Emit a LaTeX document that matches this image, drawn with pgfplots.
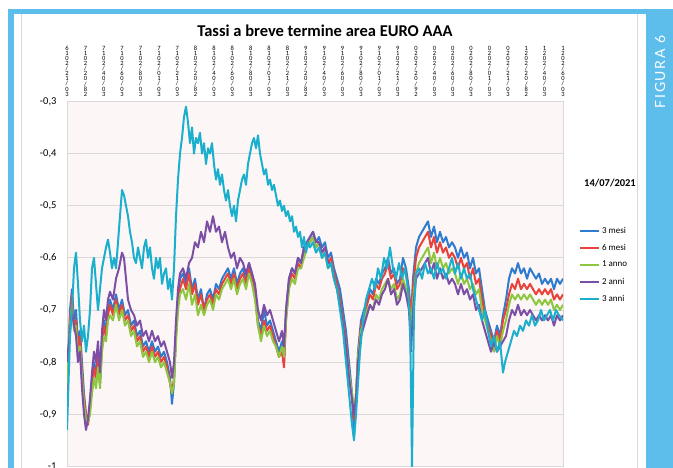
\documentclass[border=0pt]{standalone}
\usepackage{pgfplots}
\pgfplotsset{compat=1.18}
\usepackage{fontspec}
\setmainfont{Carlito}
\newfontfamily\figfont[LetterSpace=12]{Lato}
\definecolor{frameblue}{HTML}{5DBDEB}
\definecolor{cmesi}{HTML}{2E7BCF}
\definecolor{csei}{HTML}{E8423B}
\definecolor{canno}{HTML}{8DC63F}
\definecolor{cdue}{HTML}{7B4FA6}
\definecolor{ctre}{HTML}{1AAFCC}
\definecolor{plotbg}{HTML}{FDF6F6}
\definecolor{gridc}{HTML}{D9D9D9}
\newcommand{\dl}[6]{#6\\#5\\0\\2\\/\\#4\\#3\\/\\#2\\#1}
\begin{document}
\begin{tikzpicture}[x=1pt,y=1pt]
\useasboundingbox (0,0) rectangle (673,468);
\fill[white] (0,0) rectangle (673,468);
\fill[frameblue] (8,0) rectangle (14,459);
\fill[frameblue] (8,454) rectangle (673,459);
\fill[frameblue] (646,0) rectangle (673,459);
\draw[gridc, line width=0.8pt] (21,0) -- (21,454);
\draw[gridc, line width=0.8pt] (637,0) -- (637,454);
\node[white, rotate=90, font=\figfont\fontsize{14}{15}\selectfont] at (660,396) {FIGURA 6};
\node[font=\bfseries\fontsize{16.5}{18}\selectfont] at (325,437) {Tassi a breve termine area EURO AAA};
\node[font=\bfseries\fontsize{10.5}{12}\selectfont] at (610,285) {14/07/2021};
\begin{axis}[
  at={(67,3)}, anchor=south west,
  scale only axis, width=496pt, height=365pt,
  xmin=67, xmax=563, ymin=-1, ymax=-0.3,
  axis background/.style={fill=plotbg},
  axis line style={gridc, line width=0.8pt},
  ymajorgrids, grid style={gridc, line width=0.8pt},
  /pgf/number format/assume math mode=true,
  ytick={-1,-0.9,-0.8,-0.7,-0.6,-0.5,-0.4,-0.3},
  yticklabel style={/pgf/number format/use comma, /pgf/number format/fixed, /pgf/number format/precision=1, font=\fontsize{10.5}{12}\selectfont, xshift=-7pt},
  xtick={67.0,85.4,103.7,122.1,140.5,158.9,177.2,195.6,214.0,232.3,250.7,269.1,287.4,305.8,324.2,342.6,360.9,379.3,397.7,416.0,434.4,452.8,471.1,489.5,507.9,526.3,544.6,563.0},
  xticklabels={{\dl3012{1}6},{\dl2802{1}7},{\dl3004{1}7},{\dl3006{1}7},{\dl3008{1}7},{\dl3010{1}7},{\dl3012{1}7},
    {\dl2802{1}8},{\dl3004{1}8},{\dl3006{1}8},{\dl3008{1}8},{\dl3010{1}8},{\dl3012{1}8},
    {\dl2802{1}9},{\dl3004{1}9},{\dl3006{1}9},{\dl3008{1}9},{\dl3010{1}9},{\dl3012{1}9},
    {\dl2902{2}0},{\dl3004{2}0},{\dl3006{2}0},{\dl3008{2}0},{\dl3010{2}0},{\dl3012{2}0},
    {\dl2802{2}1},{\dl3004{2}1},{\dl3006{2}1}},
  xticklabel pos=right,
  xticklabel style={align=center, anchor=south, font=\fontsize{6.5}{5.1}\selectfont, inner sep=0pt, yshift=5pt},
  major tick length=0pt,
  no markers,
  every axis plot/.append style={line width=2pt, line join=round},
  legend style={at={(1.032,0.668)}, anchor=north west, draw=none, fill=none,
    font=\fontsize{9}{10}\selectfont, row sep=5.5pt, inner xsep=0pt},
  legend cell align=left,
  legend image code/.code={\draw[#1, line width=2pt] (0pt,0pt) -- (19pt,0pt);},
  clip=true
]
\addplot[cmesi] coordinates {
(67,-0.86) (70,-0.70) (72,-0.66) (74,-0.72) (76,-0.70) (78,-0.76) (80,-0.74) (82,-0.80) (84,-0.86) (86,-0.90)
(88,-0.91) (90,-0.88) (92,-0.84) (94,-0.80) (96,-0.82) (98,-0.78) (100,-0.84) (102,-0.76) (104,-0.72) (106,-0.74)
(108,-0.70) (110,-0.68) (113,-0.70) (116,-0.67) (119,-0.70) (122,-0.68) (125,-0.71) (128,-0.70) (131,-0.73) (134,-0.72)
(137,-0.75) (140,-0.74) (143,-0.77) (146,-0.76) (149,-0.78) (152,-0.76) (155,-0.78) (158,-0.77) (161,-0.79) (164,-0.78)
(167,-0.80) (170,-0.83) (172,-0.88) (174,-0.84) (176,-0.74) (178,-0.68) (180,-0.64) (183,-0.63) (186,-0.65) (189,-0.62)
(192,-0.66) (195,-0.64) (198,-0.68) (201,-0.66) (204,-0.70) (207,-0.67) (210,-0.66) (213,-0.68) (216,-0.65) (219,-0.66)
(222,-0.64) (225,-0.63) (228,-0.62) (231,-0.64) (234,-0.62) (237,-0.65) (240,-0.63) (243,-0.62) (246,-0.64) (249,-0.61)
(252,-0.63) (255,-0.66) (258,-0.72) (261,-0.74) (264,-0.70) (267,-0.73) (270,-0.72) (273,-0.74) (276,-0.76) (279,-0.78)
(282,-0.76) (284,-0.80) (286,-0.70) (289,-0.64) (292,-0.62) (295,-0.63) (298,-0.60) (301,-0.61) (304,-0.58) (307,-0.57)
(310,-0.56) (313,-0.55) (316,-0.57) (319,-0.56) (322,-0.58) (325,-0.57) (328,-0.60) (331,-0.59) (334,-0.62) (337,-0.64)
(340,-0.66) (343,-0.70) (346,-0.74) (349,-0.80) (352,-0.86) (354,-0.94) (356,-0.88) (358,-0.78) (361,-0.72) (364,-0.70)
(367,-0.68) (370,-0.66) (373,-0.67) (376,-0.64) (379,-0.65) (382,-0.63) (385,-0.62) (388,-0.60) (391,-0.63) (394,-0.62)
(397,-0.65) (400,-0.64) (403,-0.60) (406,-0.62) (409,-0.66) (411,-0.72) (413,-0.64) (416,-0.58) (419,-0.56) (422,-0.55)
(425,-0.54) (428,-0.53) (431,-0.56) (434,-0.54) (437,-0.57) (440,-0.55) (443,-0.57) (446,-0.56) (449,-0.58) (452,-0.57)
(455,-0.58) (458,-0.60) (461,-0.58) (464,-0.60) (467,-0.59) (470,-0.62) (473,-0.60) (476,-0.63) (479,-0.62) (482,-0.66)
(485,-0.70) (488,-0.72) (491,-0.74) (494,-0.76) (497,-0.73) (500,-0.75) (503,-0.71) (506,-0.68) (509,-0.64) (512,-0.62)
(515,-0.63) (518,-0.61) (521,-0.63) (524,-0.62) (527,-0.64) (530,-0.62) (533,-0.63) (536,-0.64) (539,-0.63) (542,-0.65)
(545,-0.64) (548,-0.65) (551,-0.64) (554,-0.66) (557,-0.64) (560,-0.65) (563,-0.64)
};
\addlegendentry{3 mesi}
\addplot[csei] coordinates {
(67,-0.88) (70,-0.72) (72,-0.67) (74,-0.73) (76,-0.72) (78,-0.77) (80,-0.75) (82,-0.82) (84,-0.87) (86,-0.90)
(88,-0.92) (90,-0.89) (92,-0.85) (94,-0.81) (96,-0.83) (98,-0.79) (100,-0.84) (102,-0.77) (104,-0.73) (106,-0.75)
(108,-0.71) (110,-0.69) (113,-0.71) (116,-0.68) (119,-0.71) (122,-0.69) (125,-0.72) (128,-0.71) (131,-0.74) (134,-0.73)
(137,-0.76) (140,-0.75) (143,-0.78) (146,-0.77) (149,-0.79) (152,-0.77) (155,-0.79) (158,-0.78) (161,-0.80) (164,-0.79)
(167,-0.81) (170,-0.84) (172,-0.86) (174,-0.83) (176,-0.75) (178,-0.69) (180,-0.66) (183,-0.64) (186,-0.66) (189,-0.63)
(192,-0.67) (195,-0.65) (198,-0.69) (201,-0.67) (204,-0.70) (207,-0.68) (210,-0.67) (213,-0.69) (216,-0.66) (219,-0.67)
(222,-0.65) (225,-0.64) (228,-0.63) (231,-0.65) (234,-0.63) (237,-0.66) (240,-0.64) (243,-0.63) (246,-0.65) (249,-0.62)
(252,-0.64) (255,-0.67) (258,-0.73) (261,-0.75) (264,-0.72) (267,-0.74) (270,-0.73) (273,-0.75) (276,-0.77) (279,-0.79)
(282,-0.78) (284,-0.81) (286,-0.72) (289,-0.65) (292,-0.63) (295,-0.64) (298,-0.61) (301,-0.62) (304,-0.59) (307,-0.58)
(310,-0.57) (313,-0.56) (316,-0.58) (319,-0.57) (322,-0.59) (325,-0.58) (328,-0.61) (331,-0.60) (334,-0.63) (337,-0.65)
(340,-0.68) (343,-0.72) (346,-0.76) (349,-0.82) (352,-0.87) (354,-0.91) (356,-0.87) (358,-0.79) (361,-0.73) (364,-0.71)
(367,-0.69) (370,-0.67) (373,-0.68) (376,-0.65) (379,-0.66) (382,-0.64) (385,-0.63) (388,-0.61) (391,-0.64) (394,-0.63)
(397,-0.66) (400,-0.65) (403,-0.62) (406,-0.63) (409,-0.67) (411,-0.71) (413,-0.66) (416,-0.60) (419,-0.58) (422,-0.57)
(425,-0.56) (428,-0.55) (431,-0.58) (434,-0.56) (437,-0.59) (440,-0.57) (443,-0.59) (446,-0.58) (449,-0.60) (452,-0.59)
(455,-0.60) (458,-0.62) (461,-0.60) (464,-0.62) (467,-0.61) (470,-0.64) (473,-0.62) (476,-0.65) (479,-0.64) (482,-0.68)
(485,-0.71) (488,-0.73) (491,-0.75) (494,-0.77) (497,-0.74) (500,-0.76) (503,-0.72) (506,-0.70) (509,-0.67) (512,-0.65)
(515,-0.66) (518,-0.64) (521,-0.66) (524,-0.65) (527,-0.66) (530,-0.65) (533,-0.66) (536,-0.67) (539,-0.66) (542,-0.67)
(545,-0.66) (548,-0.67) (551,-0.66) (554,-0.68) (557,-0.67) (560,-0.68) (563,-0.67)
};
\addlegendentry{6 mesi}
\addplot[canno] coordinates {
(67,-0.84) (70,-0.73) (72,-0.69) (74,-0.74) (76,-0.73) (78,-0.79) (80,-0.77) (82,-0.83) (84,-0.88) (86,-0.91)
(88,-0.915) (90,-0.90) (92,-0.86) (94,-0.83) (96,-0.85) (98,-0.81) (100,-0.85) (102,-0.78) (104,-0.75) (106,-0.76)
(108,-0.72) (110,-0.71) (113,-0.72) (116,-0.69) (119,-0.72) (122,-0.70) (125,-0.73) (128,-0.72) (131,-0.75) (134,-0.74)
(137,-0.77) (140,-0.76) (143,-0.79) (146,-0.78) (149,-0.80) (152,-0.78) (155,-0.80) (158,-0.79) (161,-0.81) (164,-0.80)
(167,-0.82) (170,-0.84) (172,-0.86) (174,-0.84) (176,-0.76) (178,-0.70) (180,-0.67) (183,-0.66) (186,-0.68) (189,-0.65)
(192,-0.69) (195,-0.67) (198,-0.71) (201,-0.69) (204,-0.71) (207,-0.69) (210,-0.68) (213,-0.70) (216,-0.67) (219,-0.68)
(222,-0.66) (225,-0.65) (228,-0.64) (231,-0.66) (234,-0.64) (237,-0.67) (240,-0.65) (243,-0.64) (246,-0.66) (249,-0.63)
(252,-0.65) (255,-0.68) (258,-0.73) (261,-0.76) (264,-0.73) (267,-0.75) (270,-0.74) (273,-0.76) (276,-0.77) (279,-0.79)
(282,-0.77) (284,-0.79) (286,-0.72) (289,-0.66) (292,-0.64) (295,-0.65) (298,-0.62) (301,-0.62) (304,-0.60) (307,-0.58)
(310,-0.57) (313,-0.56) (316,-0.58) (319,-0.57) (322,-0.60) (325,-0.59) (328,-0.62) (331,-0.61) (334,-0.64) (337,-0.66)
(340,-0.69) (343,-0.73) (346,-0.77) (349,-0.82) (352,-0.86) (354,-0.89) (356,-0.86) (358,-0.79) (361,-0.74) (364,-0.72)
(367,-0.70) (370,-0.69) (373,-0.70) (376,-0.67) (379,-0.68) (382,-0.66) (385,-0.65) (388,-0.64) (391,-0.66) (394,-0.65)
(397,-0.68) (400,-0.67) (403,-0.64) (406,-0.66) (409,-0.69) (411,-0.73) (413,-0.68) (416,-0.63) (419,-0.61) (422,-0.60)
(425,-0.59) (428,-0.58) (431,-0.61) (434,-0.59) (437,-0.62) (440,-0.60) (443,-0.62) (446,-0.61) (449,-0.63) (452,-0.62)
(455,-0.63) (458,-0.65) (461,-0.63) (464,-0.65) (467,-0.64) (470,-0.66) (473,-0.65) (476,-0.67) (479,-0.66) (482,-0.70)
(485,-0.72) (488,-0.74) (491,-0.76) (494,-0.78) (497,-0.75) (500,-0.77) (503,-0.74) (506,-0.72) (509,-0.69) (512,-0.67)
(515,-0.68) (518,-0.67) (521,-0.68) (524,-0.67) (527,-0.68) (530,-0.67) (533,-0.68) (536,-0.69) (539,-0.68) (542,-0.69)
(545,-0.68) (548,-0.69) (551,-0.68) (554,-0.70) (557,-0.69) (560,-0.70) (563,-0.69)
};
\addlegendentry{1 anno}
\addplot[cdue] coordinates {
(67,-0.80) (70,-0.74) (72,-0.70) (74,-0.73) (76,-0.75) (78,-0.80) (80,-0.78) (82,-0.85) (84,-0.90) (86,-0.93)
(88,-0.91) (90,-0.87) (92,-0.82) (94,-0.78) (96,-0.80) (98,-0.76) (100,-0.82) (102,-0.74) (104,-0.70) (106,-0.72)
(108,-0.68) (110,-0.665) (113,-0.68) (116,-0.64) (119,-0.62) (122,-0.59) (124,-0.60) (126,-0.64) (128,-0.68) (131,-0.70)
(134,-0.71) (137,-0.73) (140,-0.72) (143,-0.75) (146,-0.74) (149,-0.76) (152,-0.74) (155,-0.76) (158,-0.75) (161,-0.77)
(164,-0.76) (167,-0.78) (170,-0.80) (172,-0.83) (174,-0.80) (176,-0.72) (178,-0.66) (180,-0.63) (183,-0.62) (186,-0.64)
(189,-0.61) (192,-0.60) (195,-0.57) (198,-0.58) (201,-0.55) (204,-0.57) (207,-0.53) (210,-0.55) (213,-0.52) (216,-0.55)
(219,-0.54) (222,-0.57) (225,-0.55) (228,-0.58) (231,-0.60) (234,-0.59) (237,-0.62) (240,-0.60) (243,-0.61) (246,-0.63)
(249,-0.61) (252,-0.63) (255,-0.65) (258,-0.70) (261,-0.72) (264,-0.69) (267,-0.71) (270,-0.70) (273,-0.72) (276,-0.74)
(279,-0.76) (282,-0.74) (284,-0.77) (286,-0.70) (289,-0.64) (292,-0.62) (295,-0.63) (298,-0.60) (301,-0.61) (304,-0.58)
(307,-0.57) (310,-0.56) (313,-0.55) (316,-0.57) (319,-0.57) (322,-0.59) (325,-0.58) (328,-0.61) (331,-0.61) (334,-0.64)
(337,-0.66) (340,-0.69) (343,-0.73) (346,-0.77) (349,-0.83) (352,-0.87) (354,-0.90) (356,-0.87) (358,-0.80) (361,-0.75)
(364,-0.73) (367,-0.71) (370,-0.69) (373,-0.70) (376,-0.68) (379,-0.69) (382,-0.67) (385,-0.66) (388,-0.64) (391,-0.67)
(394,-0.66) (397,-0.69) (400,-0.68) (403,-0.65) (406,-0.67) (409,-0.70) (411,-0.78) (413,-0.70) (416,-0.64) (419,-0.63)
(422,-0.62) (425,-0.61) (428,-0.60) (431,-0.63) (434,-0.61) (437,-0.64) (440,-0.62) (443,-0.64) (446,-0.63) (449,-0.65)
(452,-0.64) (455,-0.65) (458,-0.67) (461,-0.65) (464,-0.67) (467,-0.66) (470,-0.68) (473,-0.67) (476,-0.70) (479,-0.69)
(482,-0.72) (485,-0.74) (488,-0.76) (491,-0.78) (494,-0.76) (497,-0.78) (500,-0.77) (503,-0.76) (506,-0.75) (509,-0.72)
(512,-0.70) (515,-0.71) (518,-0.69) (521,-0.71) (524,-0.70) (527,-0.71) (530,-0.70) (533,-0.71) (536,-0.72) (539,-0.71)
(542,-0.72) (545,-0.71) (548,-0.72) (551,-0.71) (554,-0.73) (557,-0.71) (560,-0.72) (563,-0.71)
};
\addlegendentry{2 anni}
\addplot[ctre] coordinates {
(67,-0.93) (70,-0.75) (72,-0.70) (74,-0.62) (76,-0.59) (78,-0.65) (80,-0.72) (82,-0.76) (84,-0.73) (86,-0.78)
(88,-0.75) (90,-0.70) (92,-0.62) (94,-0.60) (96,-0.65) (98,-0.70) (100,-0.66) (102,-0.62) (104,-0.60) (106,-0.58)
(108,-0.565) (110,-0.59) (112,-0.62) (114,-0.60) (116,-0.62) (118,-0.57) (120,-0.52) (122,-0.47) (124,-0.48) (126,-0.50)
(128,-0.52) (130,-0.55) (132,-0.57) (134,-0.60) (136,-0.61) (138,-0.58) (140,-0.60) (142,-0.62) (144,-0.58) (146,-0.565)
(148,-0.60) (150,-0.58) (152,-0.62) (154,-0.64) (156,-0.60) (158,-0.62) (160,-0.60) (162,-0.65) (164,-0.63) (166,-0.62)
(168,-0.66) (170,-0.64) (172,-0.68) (174,-0.62) (176,-0.52) (178,-0.45) (180,-0.40) (182,-0.37) (184,-0.33) (186,-0.31)
(188,-0.34) (190,-0.38) (192,-0.35) (194,-0.40) (196,-0.37) (198,-0.38) (200,-0.36) (202,-0.40) (204,-0.38) (206,-0.42)
(208,-0.39) (210,-0.40) (212,-0.38) (214,-0.42) (216,-0.45) (218,-0.43) (220,-0.46) (222,-0.44) (224,-0.47) (226,-0.49)
(228,-0.47) (230,-0.50) (232,-0.52) (234,-0.50) (236,-0.53) (238,-0.49) (240,-0.47) (242,-0.45) (244,-0.44) (246,-0.46)
(248,-0.42) (250,-0.40) (252,-0.38) (254,-0.37) (256,-0.39) (258,-0.365) (260,-0.40) (262,-0.42) (264,-0.44) (266,-0.43)
(268,-0.46) (270,-0.45) (272,-0.47) (274,-0.46) (276,-0.48) (278,-0.50) (280,-0.49) (282,-0.51) (284,-0.50) (286,-0.52)
(288,-0.51) (290,-0.53) (292,-0.52) (294,-0.55) (296,-0.54) (298,-0.56) (300,-0.55) (302,-0.58) (304,-0.56) (306,-0.59)
(308,-0.57) (310,-0.58) (313,-0.57) (316,-0.59) (319,-0.58) (322,-0.60) (325,-0.59) (328,-0.62) (331,-0.61) (334,-0.64)
(337,-0.66) (340,-0.70) (343,-0.74) (346,-0.80) (349,-0.86) (352,-0.92) (354,-0.95) (356,-0.90) (358,-0.84) (360,-0.78)
(363,-0.72) (366,-0.68) (369,-0.66) (372,-0.64) (375,-0.66) (378,-0.62) (381,-0.64) (384,-0.60) (387,-0.62) (390,-0.58)
(393,-0.62) (396,-0.64) (399,-0.61) (402,-0.64) (405,-0.62) (408,-0.66) (410,-0.72) (411,-0.85) (412,-1.00) (413,-0.85)
(414,-0.70) (416,-0.63) (419,-0.62) (422,-0.64) (425,-0.61) (428,-0.63) (431,-0.62) (434,-0.64) (437,-0.61) (440,-0.63)
(443,-0.62) (446,-0.64) (449,-0.62) (452,-0.60) (455,-0.63) (458,-0.61) (461,-0.64) (464,-0.62) (467,-0.64) (470,-0.63)
(473,-0.66) (476,-0.68) (479,-0.70) (482,-0.72) (485,-0.70) (488,-0.74) (491,-0.77) (494,-0.75) (497,-0.78) (500,-0.76)
(503,-0.82) (505,-0.80) (508,-0.78) (511,-0.76) (514,-0.74) (517,-0.75) (520,-0.73) (523,-0.74) (526,-0.72) (529,-0.73)
(532,-0.71) (535,-0.73) (538,-0.72) (541,-0.70) (544,-0.72) (547,-0.71) (550,-0.70) (553,-0.72) (556,-0.70) (559,-0.71)
(563,-0.72)
};
\addlegendentry{3 anni}
\end{axis}
\end{tikzpicture}
\end{document}
